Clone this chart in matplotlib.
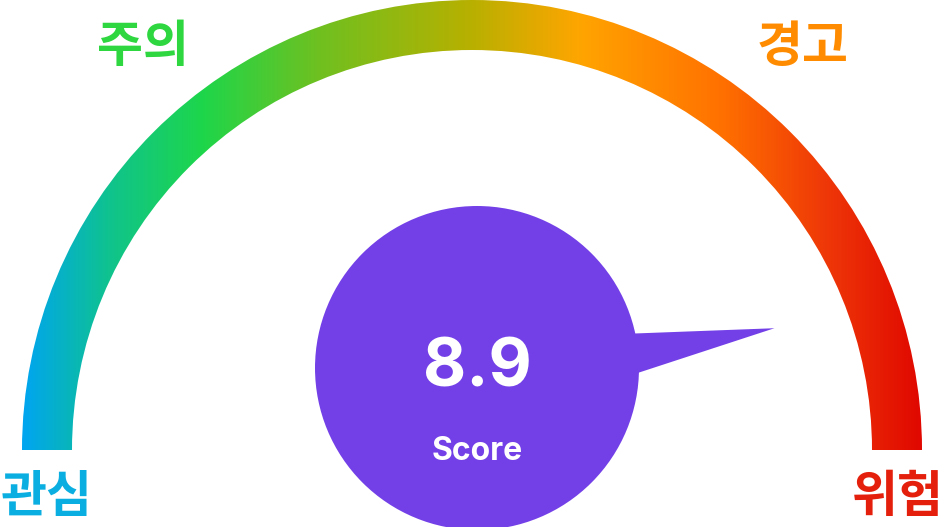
import numpy as np
import matplotlib
matplotlib.use("Agg")
import matplotlib.pyplot as plt
from matplotlib.patches import Wedge, Circle, Polygon
from matplotlib.colors import LinearSegmentedColormap

# ---- data ----
value = 8.9
vmin, vmax = 0.0, 10.0
value_label = "8.9"
sub_label = "Score"
zone_labels = ["관심", "주의", "경고", "위험"]
zone_colors = ["#0aaee0", "#2ed63f", "#ff8c00", "#e4200c"]
grad_pos = [0.0, 0.1, 0.2, 0.33, 0.5, 0.62, 0.78, 0.9, 1.0]
grad_cols = ["#00a5f0", "#10c48a", "#1ed64a", "#6fc020", "#b8b000",
             "#ffa500", "#ff7000", "#ee3508", "#e00800"]
bubble_color = "#7340e8"

plt.rcParams['font.family'] = ['Noto Sans CJK KR', 'DejaVu Sans']

W, H = 948, 527
fig = plt.figure(figsize=(W / 100, H / 100), dpi=100)
ax = fig.add_axes([0, 0, 1, 1])
ax.set_xlim(0, W)
ax.set_ylim(0, H)
ax.set_aspect('equal')
ax.axis('off')

cx, cy = 472, 77
R, width = 450, 50

# gradient arc
cmap = LinearSegmentedColormap.from_list("g", list(zip(grad_pos, grad_cols)))
grad = np.linspace(0, 1, 512).reshape(1, -1)
im = ax.imshow(grad, cmap=cmap, extent=[cx - R, cx + R, cy, cy + R],
               aspect='auto', interpolation='bicubic', zorder=1)
wedge = Wedge((cx, cy), R, 0, 180, width=width, facecolor='none', edgecolor='none')
ax.add_patch(wedge)
im.set_clip_path(wedge)

# needle
frac = (value - vmin) / (vmax - vmin)
theta = np.pi * (1 - frac)
bx, by, br = 477, 159, 162
tip_r = 330
tip = (cx + tip_r * np.cos(theta) - 8, cy + tip_r * np.sin(theta) + 10)
a1, a2 = np.deg2rad(12.5), np.deg2rad(-2)
base1 = (bx + (br - 3) * np.cos(a1), by + (br - 3) * np.sin(a1))
base2 = (bx + (br - 3) * np.cos(a2), by + (br - 3) * np.sin(a2))
ax.add_patch(Polygon([base1, tip, base2, (bx, by)], closed=True,
                     facecolor=bubble_color, edgecolor='none', zorder=3))
ax.add_patch(Circle((bx, by), br, facecolor=bubble_color, edgecolor='none', zorder=3))

ax.text(bx, 158, value_label, ha='center', va='center', color='white',
        fontsize=48, fontweight='bold', family=['Inter', 'DejaVu Sans'], zorder=4)
ax.text(bx, 76, sub_label, ha='center', va='center', color='white',
        fontsize=23, fontweight='bold', family=['Inter', 'DejaVu Sans'], zorder=4)

# zone labels
pos = [(47, 29), (143, 480), (803, 480), (898, 29)]
for (x, y), t, c in zip(pos, zone_labels, zone_colors):
    ax.text(x, y, t, ha='center', va='center', color=c, fontsize=36,
            fontweight='black', zorder=5)

fig.savefig("out.png", dpi=100)
